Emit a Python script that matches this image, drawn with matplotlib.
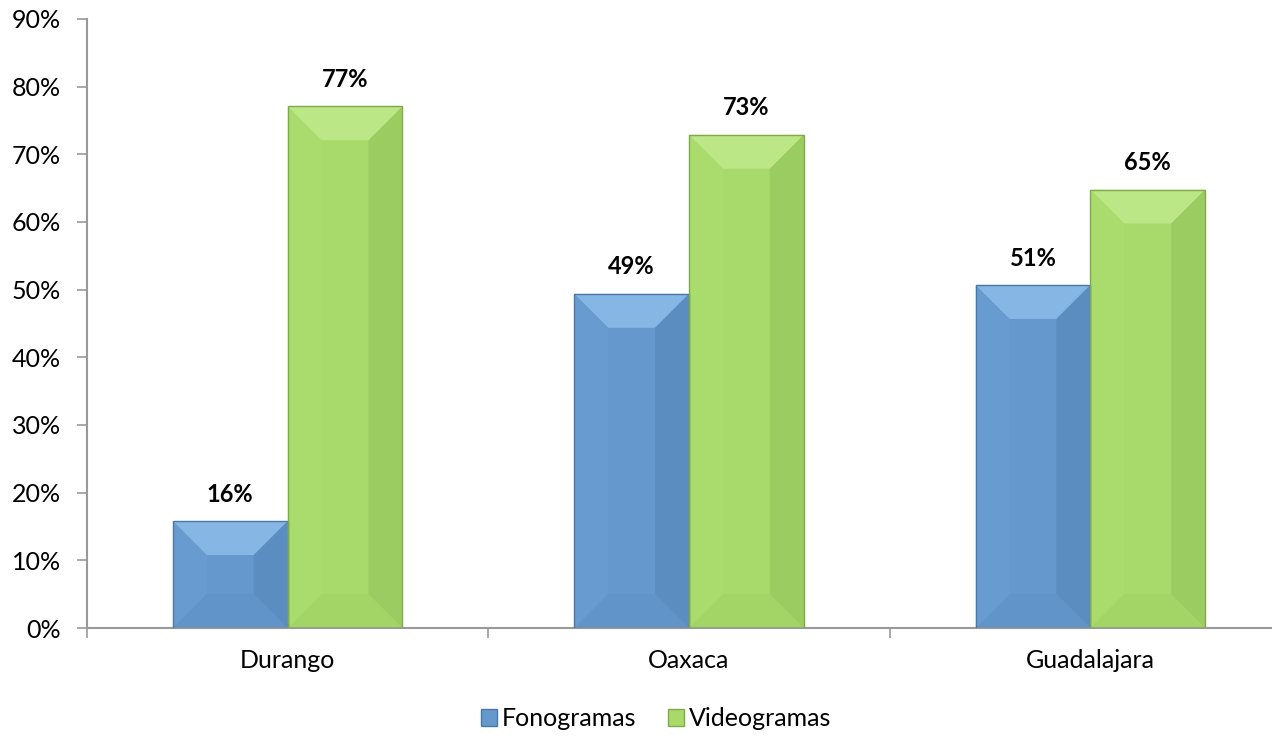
import matplotlib
matplotlib.use("Agg")
import matplotlib.pyplot as plt
from matplotlib.patches import Polygon, Patch
import numpy as np

categories = ["Durango", "Oaxaca", "Guadalajara"]
series_names = ["Fonogramas", "Videogramas"]
fonogramas = [0.158, 0.494, 0.507]
videogramas = [0.771, 0.729, 0.648]
y_ticks = [0.0, 0.1, 0.2, 0.3, 0.4, 0.5, 0.6, 0.7, 0.8, 0.9]

plt.rcParams['font.family'] = ['Lato', 'DejaVu Sans']

W, H = 1272, 738
fig = plt.figure(figsize=(W/100, H/100), dpi=100)
ax = fig.add_axes([87/W, 1-628/H, (1291-87)/W, (628-19)/H])

n = len(categories)
x = np.arange(n)
bw = 0.286
face = {"Fonogramas": "#6598CC", "Videogramas": "#A7D96B"}
facets = {
    "Fonogramas": dict(top="#9CCBF5", left="#70A4D8", right="#4A7AAC", bottom="#5C8EC2", edge="#4A78A8"),
    "Videogramas": dict(top="#CBF199", left="#AEE072", right="#86B64F", bottom="#9ACD5E", edge="#7FA94A"),
}

ax.set_xlim(-0.5, n-0.5)
ax.set_ylim(0, 0.9)

bars_all = []
for i, (name, vals) in enumerate(zip(series_names, [fonogramas, videogramas])):
    bars = ax.bar(x + (i-0.5)*bw, vals, width=bw, color=face[name], edgecolor="none", zorder=2)
    bars_all.append((name, bars, vals))

fig.canvas.draw()
inv = ax.transData.inverted()
def px_to_data(dxp, dyp):
    p0 = inv.transform((0, 0))
    p1 = inv.transform((dxp, dyp))
    return p1[0]-p0[0], p1[1]-p0[1]

bev_x, bev_y = px_to_data(34, 34)
for name, bars, vals in bars_all:
    f = facets[name]
    for b in bars:
        x0, y0 = b.get_x(), b.get_y()
        w, h = b.get_width(), b.get_height()
        x1, y1 = x0+w, y0+h
        dx = min(bev_x, w/2)
        dy = min(bev_y, h/2)
        ix0, ix1 = x0+dx, x1-dx
        iy0, iy1 = y0+dy, y1-dy
        polys = [
            ([(x0, y1), (x1, y1), (ix1, iy1), (ix0, iy1)], f["top"], 0.6),
            ([(x0, y0), (x0, y1), (ix0, iy1), (ix0, iy0)], f["left"], 0.35),
            ([(x1, y0), (x1, y1), (ix1, iy1), (ix1, iy0)], f["right"], 0.35),
            ([(x0, y0), (x1, y0), (ix1, iy0), (ix0, iy0)], f["bottom"], 0.35),
        ]
        for pts, c, a in polys:
            ax.add_patch(Polygon(pts, closed=True, facecolor=c, edgecolor="none", alpha=a, zorder=3))
        ax.add_patch(Polygon([(x0, y0), (x0, y1), (x1, y1), (x1, y0)], closed=True, fill=False,
                             edgecolor=f["edge"], linewidth=1.0, zorder=4))
        ax.annotate(f"{b.get_height()*100:.0f}%", (x0+w/2, y1), xytext=(0, 11), textcoords="offset points",
                    ha="center", va="bottom", fontsize=17, fontweight="bold", color="black")

ax.set_yticks(y_ticks)
ax.set_yticklabels([f"{int(round(t*100))}%" for t in y_ticks], fontsize=18)
ax.set_xticks(x)
ax.set_xticklabels(categories, fontsize=18)
ax.set_xticks(np.arange(-0.5, n, 1.0), minor=True)
ax.tick_params(axis='x', which='major', length=0, pad=15)
ax.tick_params(axis='x', which='minor', length=7, width=1.2, color="#999999")
ax.tick_params(axis='y', length=7, width=1.2, color="#999999", pad=12)
for s in ["top", "right"]:
    ax.spines[s].set_visible(False)
for s in ["left", "bottom"]:
    ax.spines[s].set_color("#999999")
    ax.spines[s].set_linewidth(1.5)

handles = [Patch(facecolor=face[nm], edgecolor=facets[nm]["edge"]) for nm in series_names]
fig.legend(handles, series_names, loc="center", bbox_to_anchor=(656/W, 1-719/H), ncol=2,
           frameon=False, fontsize=18, handlelength=0.64, handleheight=0.64, handletextpad=0.2, columnspacing=1.28)

fig.savefig("out.png", dpi=100)
